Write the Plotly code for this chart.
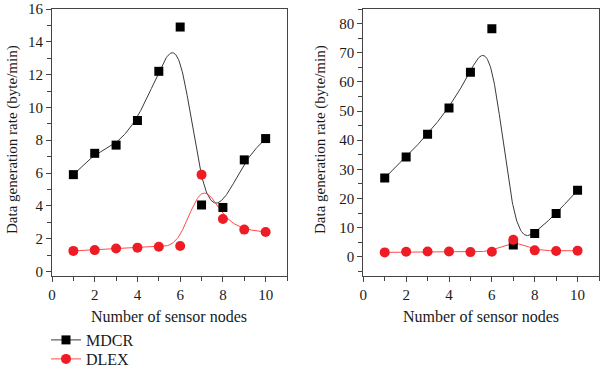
import numpy as np
import plotly.graph_objects as go

nodes = [1, 2, 3, 4, 5, 6, 7, 8, 9, 10]
mdcr_left = [5.9, 7.2, 7.7, 9.2, 12.2, 14.9, 4.05, 3.9, 6.8, 8.1]
dlex_left = [1.25, 1.3, 1.4, 1.45, 1.5, 1.55, 5.9, 3.2, 2.55, 2.4]
mdcr_right = [27.0, 34.2, 42.0, 51.0, 63.3, 78.2, 4.0, 8.0, 14.8, 22.8]
dlex_right = [1.5, 1.7, 1.8, 1.8, 1.6, 1.7, 5.8, 2.2, 2.0, 2.1]

series_names = ["MDCR", "DLEX"]
x_title = "Number of sensor nodes"
y_title = "Data generation rate (byte/min)"


def bspline(xs, ys, n=40):
    """Uniform cubic B-spline using data as control points (reflected ends)."""
    xs = np.asarray(xs, float)
    ys = np.asarray(ys, float)
    px = np.concatenate([[2 * xs[0] - xs[1]], xs, [2 * xs[-1] - xs[-2]]])
    py = np.concatenate([[2 * ys[0] - ys[1]], ys, [2 * ys[-1] - ys[-2]]])
    outx, outy = [], []
    for i in range(len(px) - 3):
        t = np.linspace(0, 1, n, endpoint=(i == len(px) - 4))
        b0 = (1 - t) ** 3 / 6
        b1 = (3 * t ** 3 - 6 * t ** 2 + 4) / 6
        b2 = (-3 * t ** 3 + 3 * t ** 2 + 3 * t + 1) / 6
        b3 = t ** 3 / 6
        outx.extend(b0 * px[i] + b1 * px[i + 1] + b2 * px[i + 2] + b3 * px[i + 3])
        outy.extend(b0 * py[i] + b1 * py[i + 1] + b2 * py[i + 2] + b3 * py[i + 3])
    return outx, outy


FONT = "Liberation Serif"
BLACK_LINE = "#3a3a3a"
RED_LINE = "#ff4a4a"
RED_MK = "#ee1c25"
TXT = "#1a1a1a"

W, H = 600, 369
ML, MR, MT, MB = 52, 1, 9, 93
PW, PH = W - ML - MR, H - MT - MB


def px2x(p):
    return (p - ML) / PW


def px2y(p):
    return (H - MB - p) / PH


fig = go.Figure()

panels = [
    ("x", "y", mdcr_left, dlex_left),
    ("x2", "y2", mdcr_right, dlex_right),
]
for xa, ya, m, d in panels:
    cx, cy = bspline(nodes, m)
    fig.add_trace(go.Scatter(x=cx, y=cy, mode="lines", xaxis=xa, yaxis=ya,
                             line=dict(color=BLACK_LINE, width=1),
                             showlegend=False, hoverinfo="skip"))
    cx, cy = bspline(nodes, d)
    fig.add_trace(go.Scatter(x=cx, y=cy, mode="lines", xaxis=xa, yaxis=ya,
                             line=dict(color=RED_LINE, width=1),
                             showlegend=False, hoverinfo="skip"))
    fig.add_trace(go.Scatter(x=nodes, y=m, mode="markers",
                             xaxis=xa, yaxis=ya, name=series_names[0],
                             marker=dict(symbol="square", size=9, color="black"),
                             showlegend=False))
    fig.add_trace(go.Scatter(x=nodes, y=d, mode="markers", xaxis=xa, yaxis=ya,
                             name=series_names[1],
                             marker=dict(symbol="circle", size=10, color=RED_MK),
                             showlegend=False))

# legend entries (line + marker), one per legend so each can be placed
fig.add_trace(go.Scatter(x=[None], y=[None], mode="lines+markers", name=series_names[0],
                         line=dict(color=BLACK_LINE, width=1), legend="legend",
                         marker=dict(symbol="square", size=9, color="black")))
fig.add_trace(go.Scatter(x=[None], y=[None], mode="lines+markers", name=series_names[1],
                         line=dict(color=RED_LINE, width=1), legend="legend2",
                         marker=dict(symbol="circle", size=10, color=RED_MK)))

axis_common = dict(
    showline=True, linecolor="#444", linewidth=1, mirror=True,
    ticks="outside", ticklen=5, tickcolor="#444", tickwidth=1,
    showgrid=False, zeroline=False, automargin=False,
    tickfont=dict(family=FONT, size=15, color=TXT),
)
minor = lambda dt: dict(dtick=dt, ticks="outside", ticklen=4, tickcolor="#444")
leg_common = dict(xanchor="left", yanchor="middle",
                  font=dict(family=FONT, size=16, color=TXT),
                  bgcolor="rgba(0,0,0,0)", itemwidth=30)

ann_font = dict(family=FONT, size=16, color=TXT)
fig.update_layout(
    width=W, height=H,
    margin=dict(l=ML, r=MR, t=MT, b=MB, autoexpand=False),
    paper_bgcolor="white", plot_bgcolor="white",
    font=dict(family=FONT, size=16, color=TXT),
    xaxis=dict(domain=[0, px2x(287)], range=[0, 11], dtick=2, minor=minor(1),
               anchor="y", **axis_common),
    yaxis=dict(domain=[0, 1], range=[-0.28, 16], dtick=2, minor=minor(1),
               anchor="x", **axis_common),
    xaxis2=dict(domain=[px2x(363.3), 1], range=[0, 11], dtick=2, minor=minor(1),
                anchor="y2", **axis_common),
    yaxis2=dict(domain=[0, 1], range=[-6.6, 85], dtick=10, minor=minor(5),
                anchor="x2", **axis_common),
    legend=dict(x=px2x(46), y=px2y(340), **leg_common),
    legend2=dict(x=px2x(46), y=px2y(359), **leg_common),
    annotations=[
        dict(text=x_title, x=px2x(169), y=px2y(316), xref="paper", yref="paper",
             xanchor="center", yanchor="middle", showarrow=False, font=ann_font),
        dict(text=x_title, x=px2x(481), y=px2y(316), xref="paper", yref="paper",
             xanchor="center", yanchor="middle", showarrow=False, font=ann_font),
        dict(text=y_title, x=px2x(12), y=px2y(140), xref="paper", yref="paper",
             xanchor="center", yanchor="middle", textangle=-90, showarrow=False,
             font=dict(family=FONT, size=15, color=TXT)),
        dict(text=y_title, x=px2x(320), y=px2y(140), xref="paper", yref="paper",
             xanchor="center", yanchor="middle", textangle=-90, showarrow=False,
             font=dict(family=FONT, size=15, color=TXT)),
    ],
)

fig.write_html("out.html", config={"displayModeBar": False},
               post_script="document.body.style.margin='0';document.body.style.overflow='hidden';")
